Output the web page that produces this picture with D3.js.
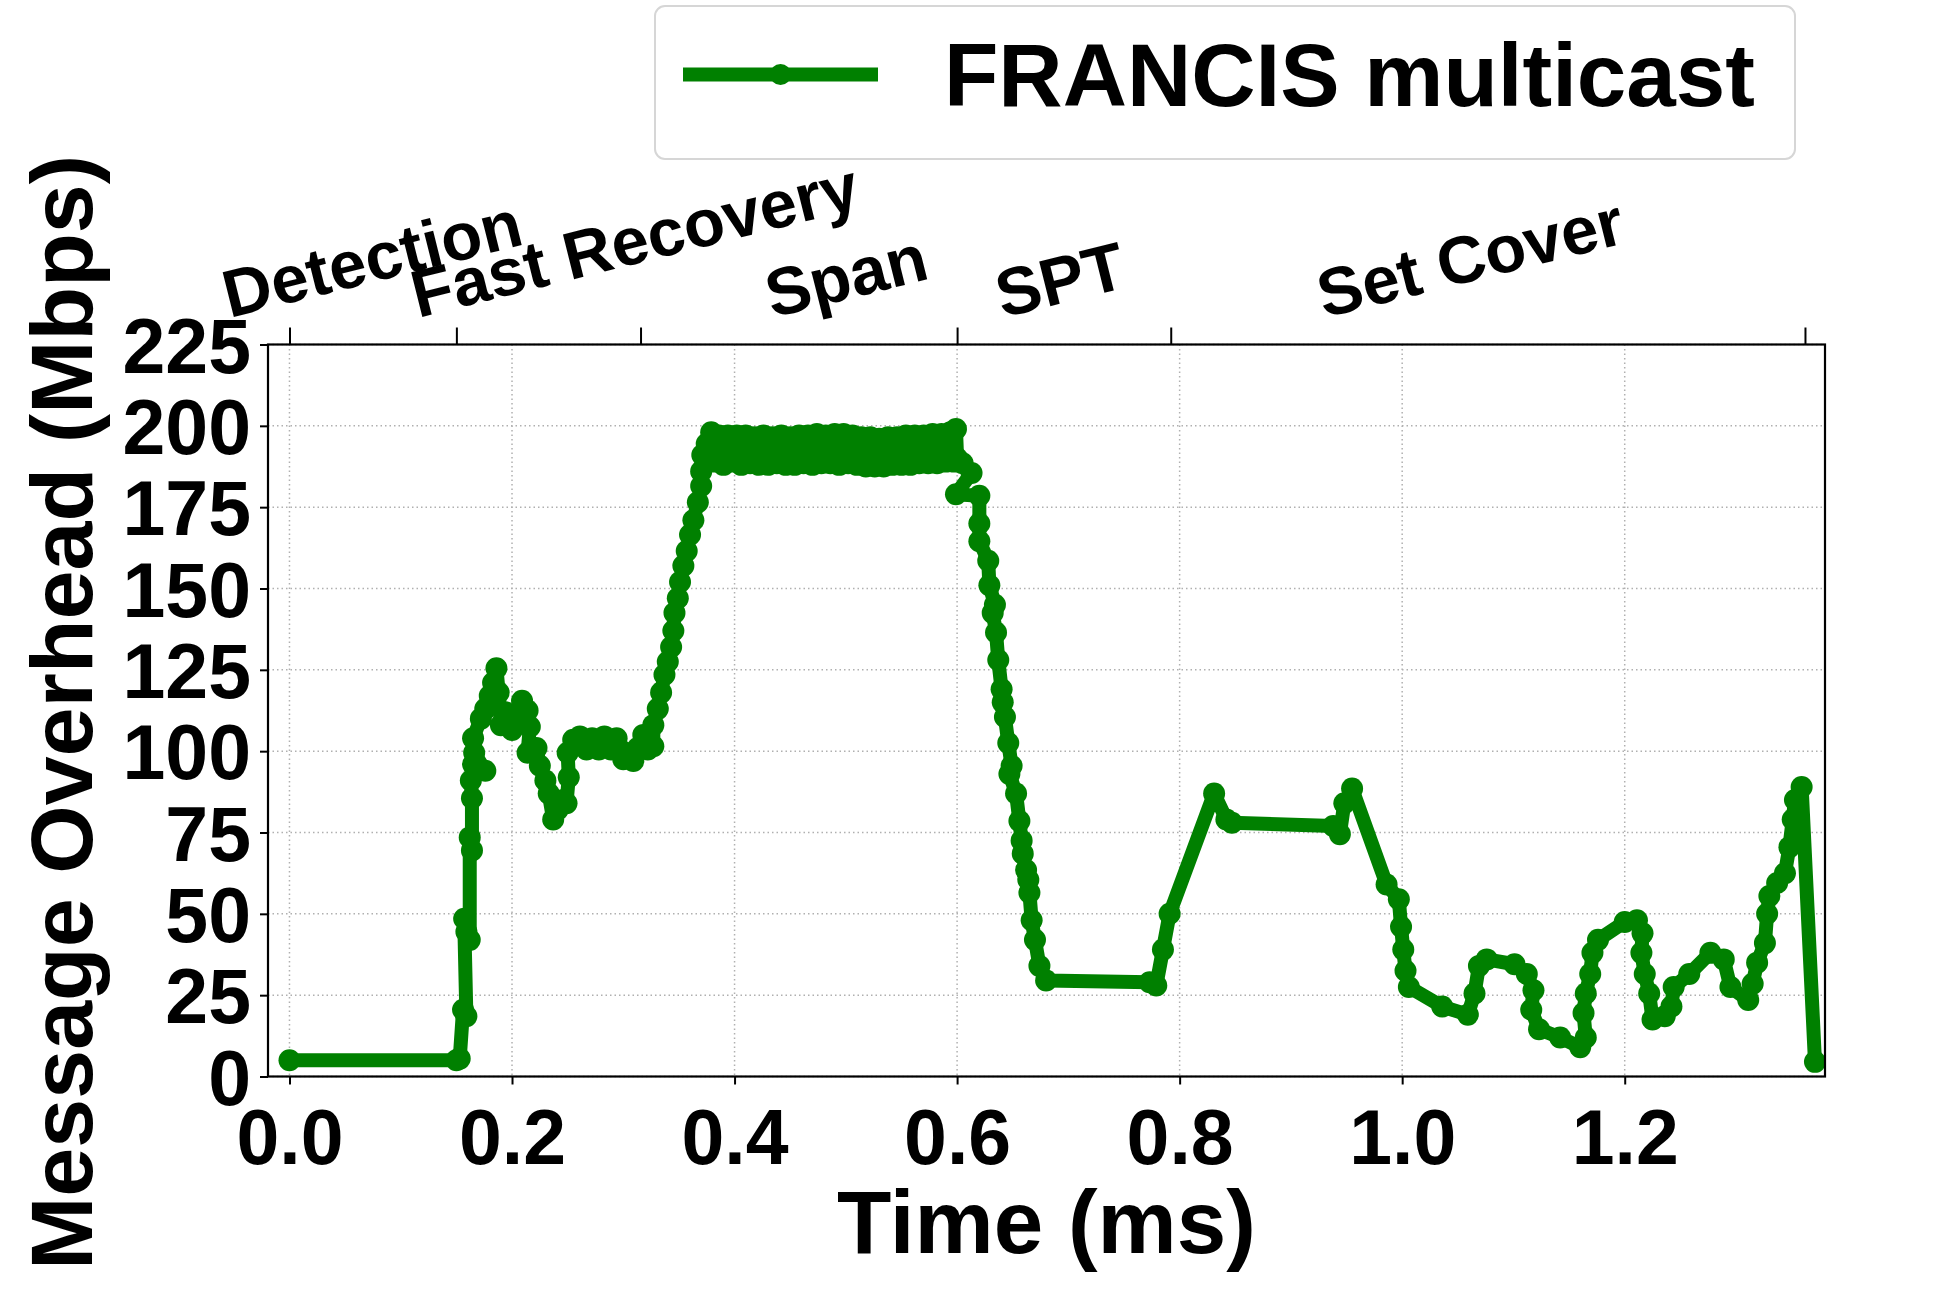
<!DOCTYPE html>
<html>
<head>
<meta charset="utf-8">
<script src="https://cdn.jsdelivr.net/npm/d3@7"></script>
<style>
	body { margin: 0; background: #fff; }
	svg text { font-family: "Liberation Sans", Arial, sans-serif; font-weight: bold; }
</style>
</head>
<body>
<div class="wrapper"></div>
<script>

// ---------------- data ---------------- //

var timeMs = [
	0.000, 0.150, 0.153, 0.156, 0.159, 0.157, 0.159, 0.162, 0.162, 0.164,
	0.164, 0.163, 0.165, 0.176, 0.166, 0.165, 0.172, 0.176, 0.180, 0.183,
	0.186, 0.188, 0.190, 0.194, 0.200, 0.205, 0.209, 0.214, 0.216, 0.214,
	0.222, 0.225, 0.230, 0.233, 0.237, 0.241, 0.246, 0.249, 0.251, 0.250,
	0.255, 0.261, 0.267, 0.272, 0.278, 0.283, 0.289, 0.294, 0.299, 0.300,
	0.305, 0.309, 0.313, 0.318, 0.322, 0.327, 0.327, 0.331, 0.334, 0.337,
	0.340, 0.343, 0.345, 0.346, 0.349, 0.351, 0.354, 0.357, 0.360, 0.363,
	0.367, 0.370, 0.370, 0.371, 0.375,
	// span
	0.379, 0.382, 0.386, 0.390, 0.394, 0.398, 0.402, 0.406, 0.410, 0.414,
	0.418, 0.422, 0.426, 0.430, 0.434, 0.438, 0.442, 0.446, 0.450, 0.454,
	0.458, 0.462, 0.466, 0.470, 0.474, 0.478, 0.482, 0.486, 0.490, 0.494,
	0.498, 0.502, 0.506, 0.510, 0.514, 0.518, 0.522, 0.526, 0.530, 0.534,
	0.538, 0.542, 0.546, 0.550, 0.554, 0.558, 0.562, 0.566, 0.570, 0.574,
	0.578, 0.582, 0.586, 0.590, 0.594, 0.597, 0.599,
	// spt
	0.600, 0.605, 0.613, 0.599, 0.620, 0.620, 0.620, 0.628, 0.629, 0.634,
	0.632, 0.635, 0.637, 0.640, 0.641, 0.643, 0.646, 0.649, 0.647, 0.653,
	0.656, 0.658, 0.659, 0.662, 0.664, 0.665, 0.667, 0.670, 0.674, 0.680,
	0.773, 0.779, 0.785, 0.791, 0.831, 0.842, 0.847, 0.938, 0.944, 0.948,
	0.955,
	// set cover
	0.986, 0.997, 0.999, 1.001, 1.003, 1.006, 1.036, 1.059, 1.065, 1.069,
	1.076, 1.101, 1.112, 1.118, 1.116, 1.123, 1.142, 1.160, 1.165, 1.163,
	1.165, 1.169, 1.171, 1.176, 1.200, 1.211, 1.216, 1.215, 1.218, 1.222,
	1.225, 1.236, 1.242, 1.244, 1.258, 1.277, 1.289, 1.295, 1.311, 1.315,
	1.319, 1.326, 1.328, 1.330, 1.337, 1.344, 1.348, 1.351, 1.353, 1.359,
	1.371
];

var overheadMbps = [
	5.0, 5.0, 5.5, 20.5, 18.5, 48.5, 44.5, 42.0, 73.5, 69.5,
	85.5, 91.0, 96.0, 94.0, 99.5, 104.0, 110.0, 113.0, 117.0, 121.0,
	125.5, 118.0, 108.0, 112.0, 106.5, 111.0, 115.5, 112.5, 107.5, 99.5,
	101.0, 95.5, 91.0, 87.0, 79.0, 82.0, 85.0, 84.0, 92.0, 99.5,
	103.5, 104.5, 100.5, 104.0, 100.5, 104.5, 100.5, 104.0, 100.0, 97.5,
	98.0, 97.0, 101.0, 105.0, 100.5, 101.5, 108.0, 113.0, 118.0, 123.5,
	127.5, 132.0, 137.0, 142.5, 147.0, 152.0, 157.0, 161.5, 166.5, 171.0,
	176.5, 181.5, 186.0, 191.0, 194.5,
	// span
	198.0, 189.0, 197.0, 188.0, 197.0, 189.0, 197.0, 188.0, 197.0, 188.5,
	196.5, 188.0, 197.0, 188.0, 196.5, 188.5, 197.0, 188.0, 196.5, 188.0,
	197.0, 188.5, 197.0, 188.0, 197.5, 188.5, 197.0, 188.5, 197.5, 188.0,
	197.5, 188.5, 197.0, 188.0, 196.5, 187.5, 196.5, 187.5, 196.0, 187.5,
	196.5, 188.0, 196.5, 188.0, 197.0, 188.0, 197.0, 188.5, 197.0, 188.5,
	197.5, 188.5, 197.5, 189.0, 198.0, 189.0, 199.0,
	// spt
	190.0, 188.5, 185.5, 179.0, 178.5, 170.0, 164.5, 158.5, 151.0, 145.0,
	142.5, 136.5, 128.0, 119.0, 115.0, 110.5, 102.5, 95.5, 93.0, 87.0,
	78.5, 72.5, 68.5, 63.5, 60.5, 56.5, 48.0, 42.0, 34.0, 29.5,
	29.0, 28.0, 39.0, 50.0, 87.0, 79.0, 78.0, 77.0, 74.5, 84.0,
	88.5,
	// set cover
	59.0, 54.5, 46.0, 39.0, 32.5, 27.5, 21.5, 19.0, 25.5, 34.0,
	36.0, 34.5, 31.5, 26.5, 20.5, 14.5, 12.0, 9.0, 12.0, 19.5,
	25.5, 31.5, 38.0, 42.0, 47.5, 48.0, 44.0, 38.0, 31.5, 25.5,
	17.5, 18.5, 21.5, 27.5, 31.5, 38.0, 36.0, 27.5, 23.5, 28.5,
	35.0, 41.0, 50.0, 55.5, 59.5, 62.5, 70.5, 79.0, 85.0, 89.0,
	4.5
];

var phaseNames = ["Detection", "Fast Recovery", "Span", "SPT", "Set Cover"];
var phaseLabelMs = [0.074, 0.310, 0.500, 0.6925, 1.061];
var phaseBoundsMs = [0, 0.150, 0.3155, 0.600, 0.792, 1.362];

var xTicks = [0, 0.2, 0.4, 0.6, 0.8, 1.0, 1.2];
var yTicks = [0, 25, 50, 75, 100, 125, 150, 175, 200, 225];

var seriesName = "FRANCIS multicast";

// ---------------- layout ---------------- //

var WIDTH = 1937,
	HEIGHT = 1292,
	LEFT = 268,
	RIGHT = 1825,
	TOP = 344.5,
	BOTTOM = 1076.5,
	GREEN = "#008000",
	LINE_W = 14,
	MARKER_R = 11,
	TICK_FONT = 77,
	LABEL_FONT = 89,
	PHASE_FONT = 67,
	PHASE_ROT = 14;

var points = timeMs.map(function(t, i) {
	return {t: t, v: overheadMbps[i]};
});

var svg = d3.select(".wrapper")
	.append("svg")
		.attr("width", WIDTH)
		.attr("height", HEIGHT);

var x = d3.scaleLinear().domain([-0.0193, 1.38]).range([LEFT, RIGHT]);
var y = d3.scaleLinear().domain([0, 225]).range([BOTTOM, TOP]);

// grid
var grid = svg.append("g")
	.attr("stroke", "#b0b0b0")
	.attr("stroke-width", 1.5)
	.attr("stroke-dasharray", "1.5,3");

grid.selectAll(".vgrid")
	.data(xTicks)
	.enter()
	.append("line")
		.attr("x1", function(d) {return x(d);})
		.attr("x2", function(d) {return x(d);})
		.attr("y1", TOP)
		.attr("y2", BOTTOM);

grid.selectAll(".hgrid")
	.data(yTicks)
	.enter()
	.append("line")
		.attr("x1", LEFT)
		.attr("x2", RIGHT)
		.attr("y1", function(d) {return y(d);})
		.attr("y2", function(d) {return y(d);});

// series
var line = d3.line()
	.x(function(d) {return x(d.t);})
	.y(function(d) {return y(d.v);});

svg.append("path")
	.datum(points)
	.attr("d", line)
	.attr("fill", "none")
	.attr("stroke", GREEN)
	.attr("stroke-width", LINE_W)
	.attr("stroke-linejoin", "round");

svg.append("g")
	.selectAll("circle")
	.data(points)
	.enter()
	.append("circle")
		.attr("cx", function(d) {return x(d.t);})
		.attr("cy", function(d) {return y(d.v);})
		.attr("r", MARKER_R)
		.attr("fill", GREEN);

// frame
svg.append("rect")
	.attr("x", LEFT)
	.attr("y", TOP)
	.attr("width", RIGHT - LEFT)
	.attr("height", BOTTOM - TOP)
	.attr("fill", "none")
	.attr("stroke", "#000")
	.attr("stroke-width", 2.2);

// axes
var xAxis = d3.axisBottom(x)
	.tickValues(xTicks)
	.tickFormat(d3.format(".1f"))
	.tickSize(8)
	.tickPadding(25);

var yAxis = d3.axisLeft(y)
	.tickValues(yTicks)
	.tickSize(8)
	.tickPadding(9);

var topAxis = d3.axisTop(x)
	.tickValues(phaseBoundsMs)
	.tickFormat("")
	.tickSize(17);

function styleAxis(g) {
	g.select(".domain").remove();
	g.attr("font-size", TICK_FONT)
		.attr("font-family", null);
	g.selectAll(".tick line").attr("stroke-width", 2);
	g.selectAll(".tick text").attr("fill", "#000");
}

svg.append("g")
	.attr("transform", "translate(0," + BOTTOM + ")")
	.call(xAxis)
	.call(styleAxis);

svg.append("g")
	.attr("transform", "translate(" + LEFT + ",0)")
	.call(yAxis)
	.call(styleAxis)
	.selectAll(".tick text")
		.attr("dy", "0.36em");

svg.append("g")
	.attr("transform", "translate(0," + TOP + ")")
	.call(topAxis)
	.call(styleAxis);

// phase names above the plot
var sinR = Math.sin(PHASE_ROT * Math.PI / 180),
	cosR = Math.cos(PHASE_ROT * Math.PI / 180),
	capH = 0.716 * PHASE_FONT;

phaseNames.forEach(function(name, i) {
	var t = svg.append("text")
		.attr("font-size", PHASE_FONT)
		.text(name);
	var w = t.node().getComputedTextLength();
	var lx = x(phaseLabelMs[i]) - (w * cosR - capH * sinR) / 2;
	t.attr("transform", "translate(" + lx + ",318) rotate(" + (-PHASE_ROT) + ")");
});

// axis titles
svg.append("text")
	.attr("x", (LEFT + RIGHT) / 2)
	.attr("y", 1253)
	.attr("text-anchor", "middle")
	.attr("font-size", LABEL_FONT)
	.text("Time (ms)");

svg.append("text")
	.attr("transform", "translate(92," + ((TOP + BOTTOM) / 2 + 2) + ") rotate(-90)")
	.attr("text-anchor", "middle")
	.attr("font-size", 88)
	.text("Message Overhead (Mbps)");

// legend
var legend = svg.append("g");

legend.append("rect")
	.attr("x", 655)
	.attr("y", 6)
	.attr("width", 1140)
	.attr("height", 153)
	.attr("rx", 10)
	.attr("fill", "#fff")
	.attr("stroke", "#d6d6d6")
	.attr("stroke-width", 2);

legend.append("line")
	.attr("x1", 683)
	.attr("x2", 878)
	.attr("y1", 74.5)
	.attr("y2", 74.5)
	.attr("stroke", GREEN)
	.attr("stroke-width", LINE_W);

legend.append("circle")
	.attr("cx", 780.5)
	.attr("cy", 74.5)
	.attr("r", 10.5)
	.attr("fill", GREEN);

legend.append("text")
	.attr("x", 944)
	.attr("y", 106)
	.attr("font-size", 89)
	.text(seriesName);

</script>
</body>
</html>
